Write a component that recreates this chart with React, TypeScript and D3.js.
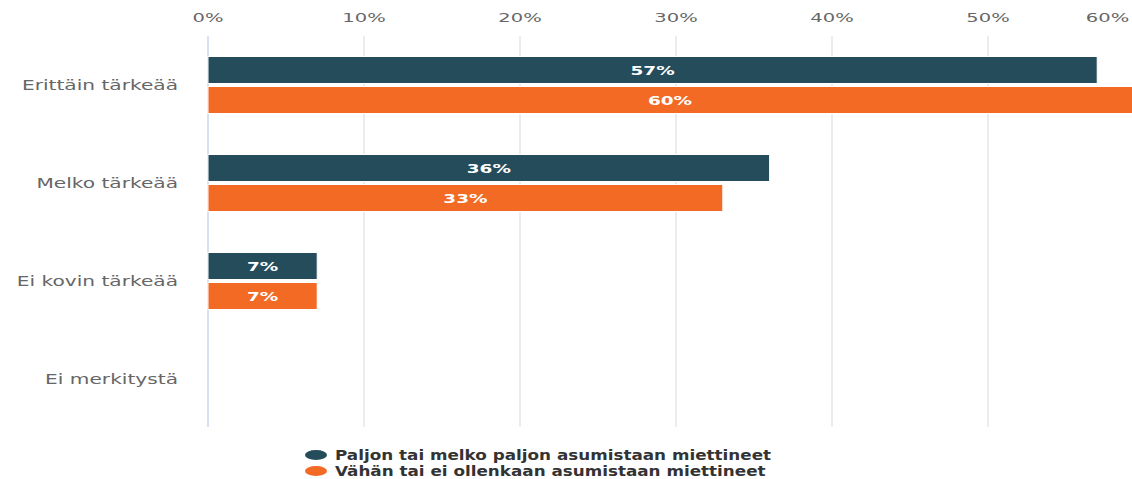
import React from "react";
import * as d3 from "d3";

const categories = ["Erittäin tärkeää", "Melko tärkeää", "Ei kovin tärkeää", "Ei merkitystä"];
const seriesNames = ["Paljon tai melko paljon asumistaan miettineet", "Vähän tai ei ollenkaan asumistaan miettineet"];
const seriesA = [57, 36, 7, 0];
const seriesB = [60, 33, 7, 0];
const ticks = [0, 10, 20, 30, 40, 50, 60];
const colors = ["#244c5a", "#f26a24"];

const W = 1132;
const H = 479;
const FONT = "'DejaVu Sans', Verdana, sans-serif";

function SText(props: {
  x: number; y: number; sx: number; anchor?: string; size: number; fill: string; weight?: string; children: React.ReactNode;
}) {
  const { x, y, sx, anchor = "start", size, fill, weight = "normal", children } = props;
  return (
    <text
      transform={`translate(${x},${y}) scale(${sx},1)`}
      textAnchor={anchor}
      fontSize={size}
      fill={fill}
      fontWeight={weight}
      fontFamily={FONT}
    >
      {children}
    </text>
  );
}

export default function App() {
  const x = d3.scaleLinear().domain([0, 60]).range([208, 1144]);
  const y = d3.scaleBand<string>().domain(categories).range([36, 428]);
  const bh = 27;
  const gap = 3;
  const series = [seriesA, seriesB];
  const clipRight = W;
  const labelRight = 1130;

  return (
    <div style={{ position: "fixed", left: 0, top: 0, width: W, height: H, background: "#fff" }}>
      <svg width={W} height={H} style={{ display: "block" }}>
        <rect x={0} y={0} width={W} height={H} fill="#fff" />
        {/* grid */}
        {ticks.map((t) => (
          <line key={"g" + t} x1={x(t)} x2={x(t)} y1={36} y2={427} stroke={t === 0 ? "#ccd6eb" : "#e6e6e6"} strokeWidth={1.5} />
        ))}
        {/* tick labels */}
        {ticks.map((t) => {
          const half = 22.5;
          const lx = Math.min(x(t), labelRight - half);
          return (
            <SText key={"t" + t} x={lx} y={22} sx={1.5} anchor="middle" size={13} fill="#666">
              {t}%
            </SText>
          );
        })}
        {/* category labels */}
        {categories.map((c) => (
          <SText key={"c" + c} x={178} y={(y(c) as number) + y.bandwidth() / 2 + 5} sx={1.44} anchor="end" size={14} fill="#666">
            {c}
          </SText>
        ))}
        {/* bars */}
        {categories.map((c, i) => {
          const cy = (y(c) as number) + y.bandwidth() / 2;
          return series.map((s, si) => {
            const v = s[i];
            if (!v) return null;
            const top = si === 0 ? cy - bh - gap / 2 : cy + gap / 2;
            const x0 = x(0);
            const x1 = x(v);
            const visRight = Math.min(x1, clipRight);
            return (
              <g key={c + si}>
                <rect x={x0} y={top} width={x1 - x0} height={bh} fill={colors[si]} stroke="#fff" strokeWidth={1} />
                <SText x={(x0 + visRight) / 2} y={top + bh / 2 + 5} sx={1.42} anchor="middle" size={13} fill="#fff" weight="bold">
                  {v}%
                </SText>
              </g>
            );
          });
        })}
        {/* legend */}
        {seriesNames.map((n, i) => (
          <g key={"l" + i}>
            <ellipse cx={316} cy={455 + i * 16} rx={11} ry={5} fill={colors[i]} />
            <SText x={335} y={460 + i * 16} sx={1.2} size={14} fill="#333" weight="bold">
              {n}
            </SText>
          </g>
        ))}
      </svg>
    </div>
  );
}
